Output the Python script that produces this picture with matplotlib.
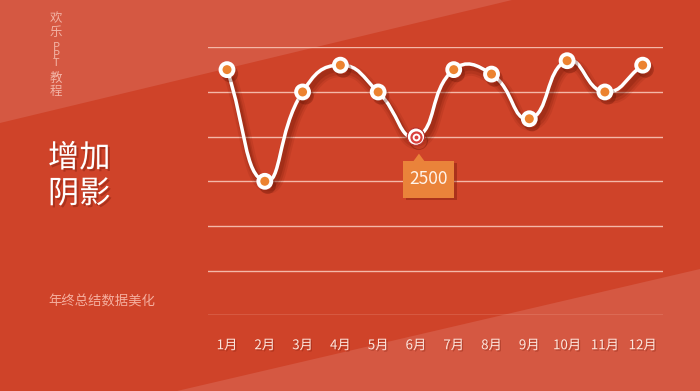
import numpy as np
import matplotlib
matplotlib.use("Agg")
import matplotlib.pyplot as plt
import matplotlib.patheffects as pe
from matplotlib.path import Path
from matplotlib.patches import PathPatch, Polygon, Rectangle
from matplotlib.transforms import Affine2D, ScaledTranslation

plt.rcParams['font.family'] = ['Noto Sans CJK SC', 'DejaVu Sans']

# ---------------- data ----------------
months = ['1月', '2月', '3月', '4月', '5月', '6月', '7月', '8月', '9月', '10月', '11月', '12月']
values = [3250, 2000, 3000, 3300, 3000, 2500, 3250, 3200, 2700, 3350, 3000, 3300]
y_ticks = [500, 1000, 1500, 2000, 2500, 3000, 3500]
highlight_index = 5
highlight_label = '2500'
side_title_parts = ['欢\n乐', 'P\nP\nT', '教\n程']
main_title = '增加\n阴影'
subtitle = '年终总结数据美化'

# ---------------- figure ----------------
W, H, DPI = 700, 391, 100
fig = plt.figure(figsize=(W / DPI, H / DPI), dpi=DPI)
dark = '#CF4329'
light = '#D55842'
fig.patch.set_facecolor(dark)

# background diagonal bands (figure fraction coords)
fig.patches.append(Polygon([(0, 1 - 123 / H), (0, 1), (512 / W, 1)], closed=True,
                           transform=fig.transFigure, facecolor=light, edgecolor='none', zorder=-10))
fig.patches.append(Polygon([(177 / W, 0), (1, 0), (1, 1 - 269 / H)], closed=True,
                           transform=fig.transFigure, facecolor=light, edgecolor='none', zorder=-10))

ax = fig.add_axes([208.3 / W, (H - 315.3) / H, (662.7 - 208.3) / W, (315.3 - 47.3) / H])
ax.set_zorder(2)
ax.set_facecolor('none')
x = np.arange(len(months))
ax.set_xlim(-0.495, 11.53)
ax.set_ylim(y_ticks[0], y_ticks[-1])
for s in ax.spines.values():
    s.set_visible(False)
ax.set_yticks(y_ticks)
ax.tick_params(axis='y', left=False, labelleft=False)
ax.yaxis.grid(True, color='#F4B8A8', linewidth=1.0)
ax.set_axisbelow(True)
ax.set_xticks(x)
ax.set_xticklabels(months, fontsize=9.6, color='#FCE6DE')
ax.tick_params(axis='x', bottom=False, pad=13)
for lab in ax.get_xticklabels():
    lab.set_path_effects([pe.withSimplePatchShadow(offset=(1, -1), shadow_rgbFace='#7a1a0a', alpha=0.35)])

# ---------- smooth curve (echarts-like bezier, smooth=0.5) ----------
fig.canvas.draw()
disp = ax.transData.transform(np.column_stack([x, values]))
data_pts = np.column_stack([x, values]).astype(float)
smooth = 0.5
n = len(data_pts)
verts = [tuple(data_pts[0])]
codes = [Path.MOVETO]
cp0 = None
for i in range(n):
    p = data_pts[i]
    prev = data_pts[i - 1] if i > 0 else p
    nxt = data_pts[i + 1] if i < n - 1 else p
    dp = disp[i]
    dprev = disp[i - 1] if i > 0 else dp
    dnxt = disp[i + 1] if i < n - 1 else dp
    lp = np.hypot(*(dp - dprev))
    ln = np.hypot(*(dnxt - dp))
    r = ln / (ln + lp) if (ln + lp) > 0 else 0.5
    v = nxt - prev
    cp_in = p - v * smooth * (1 - r)
    cp_out = p + v * smooth * r
    if i > 0:
        verts += [tuple(cp0), tuple(cp_in), tuple(p)]
        codes += [Path.CURVE4, Path.CURVE4, Path.CURVE4]
    cp0 = cp_out
path = Path(verts, codes)
shadow_fx = [pe.SimpleLineShadow(offset=(2, -4), shadow_color='#5a0d00', alpha=0.10, linewidth=9),
             pe.SimpleLineShadow(offset=(2, -4), shadow_color='#5a0d00', alpha=0.14, linewidth=6),
             pe.SimpleLineShadow(offset=(2, -3), shadow_color='#5a0d00', alpha=0.18, linewidth=3.5),
             pe.Normal()]
curve = PathPatch(path, facecolor='none', edgecolor='white', linewidth=2.5,
                  capstyle='round', joinstyle='round', zorder=3, clip_on=False)
curve.set_path_effects(shadow_fx)
ax.add_patch(curve)

# markers
mask = np.arange(n) != highlight_index
mk, = ax.plot(x[mask], np.array(values)[mask], linestyle='none', marker='o', markersize=9.3,
              markerfacecolor='#EC8330', markeredgecolor='white', markeredgewidth=2.8,
              zorder=4, clip_on=False)
mk.set_path_effects([pe.SimpleLineShadow(offset=(2, -3), shadow_color='#5a0d00', alpha=0.3),
                     pe.Normal()])

# highlighted point (target style)
hx, hy = x[highlight_index], values[highlight_index]
h0, = ax.plot([hx], [hy], marker='o', markersize=12.5, markerfacecolor='white',
              markeredgecolor='#B8302A', markeredgewidth=0.8, zorder=5, clip_on=False)
h0.set_path_effects([pe.SimpleLineShadow(offset=(2, -3), shadow_color='#5a0d00', alpha=0.3), pe.Normal()])
ax.plot([hx], [hy], marker='o', markersize=7.2, markerfacecolor='white',
        markeredgecolor='#D9403C', markeredgewidth=1.6, zorder=6, clip_on=False)
ax.plot([hx], [hy], marker='o', markersize=2.8, markerfacecolor='#D9403C',
        markeredgecolor='none', zorder=7, clip_on=False)

# tooltip box anchored to highlighted point (pixel offsets)
tr = Affine2D() + ScaledTranslation(hx, hy, ax.transData)
box_color = '#EA833A'
box = Rectangle((-13, -61), 51, 37, transform=tr, facecolor=box_color, edgecolor='none',
                zorder=8, clip_on=False)
box.set_path_effects([pe.withSimplePatchShadow(offset=(2, -2), shadow_rgbFace='#5a0d00', alpha=0.3)])
fig.patches.append(box)
tri = Polygon([(-2.5, -24.5), (8.5, -24.5), (3, -17)], closed=True, transform=tr,
              facecolor=box_color, edgecolor='none', zorder=8)
fig.patches.append(tri)
fig.text(12.5, -42.5, highlight_label, transform=tr, ha='center', va='center',
         fontsize=12.5, color='#FFF4EA', zorder=9)

# ---------------- left texts ----------------
side_color = '#F3B3A5'
fig.text(56 / W, 1 - 25.5 / H, side_title_parts[0], ha='center', va='center', fontsize=9,
         color=side_color, linespacing=1.15)
fig.text(56 / W, 1 - 55 / H, side_title_parts[1], ha='center', va='center', fontsize=8,
         color=side_color, linespacing=0.7)
fig.text(56 / W, 1 - 85 / H, side_title_parts[2], ha='center', va='center', fontsize=9,
         color=side_color, linespacing=1.05)

fig.text(48 / W, 1 - 176 / H, main_title, ha='left', va='center', fontsize=22.5,
         color='white', linespacing=1.15,
         path_effects=[pe.withSimplePatchShadow(offset=(1.5, -1.5), shadow_rgbFace='#5a0d00', alpha=0.3)])

fig.text(48 / W, 1 - 302 / H, subtitle, ha='left', va='center', fontsize=9.6,
         color='#F5AE9E')

fig.savefig('out.png', dpi=DPI, facecolor=fig.get_facecolor())
